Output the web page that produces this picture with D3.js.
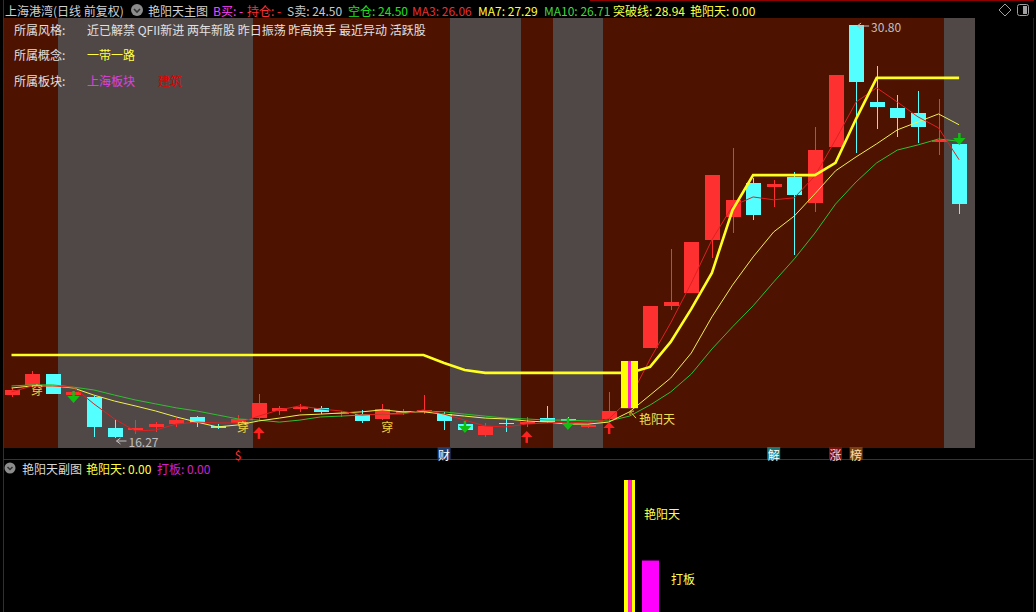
<!DOCTYPE html>
<html><head><meta charset="utf-8">
<script src="https://cdn.jsdelivr.net/npm/d3@7"></script>
<style>
html,body{margin:0;padding:0;background:#000;}
svg{display:block;font-family:"Noto Sans CJK SC","Noto Sans",sans-serif;}
</style></head><body>
<svg id="c" width="1036" height="612"></svg>
<script>
// ---------- data ----------
const open  = [17.78,18.14,18.52,17.78,17.71,16.62,16.55,16.66,16.76,17.01,16.69,16.80,16.97,17.22,17.29,17.33,17.11,17.11,16.94,17.15,17.18,17.11,16.76,16.38,16.80,16.80,16.97,16.94,16.66,16.94,17.32,19.43,20.91,21.37,23.23,24.04,25.24,25.10,25.45,24.54,26.51,30.80,28.09,27.88,27.70,26.72,26.61];
const high  = [18.03,18.63,18.52,17.92,17.75,16.90,16.90,16.83,16.97,17.04,16.76,17.08,17.82,17.40,17.47,17.40,17.22,17.26,17.47,17.29,17.78,17.18,16.83,16.80,16.94,17.01,17.40,17.01,16.80,17.89,18.98,20.91,22.92,23.16,25.52,26.47,25.42,25.35,25.63,27.21,29.04,30.80,29.36,28.34,28.48,28.20,27.00];
const low   = [17.71,18.06,17.82,17.75,16.31,16.27,16.41,16.48,16.66,16.66,16.59,16.69,16.90,17.08,17.18,17.11,17.01,16.80,16.90,17.08,17.11,16.55,16.48,16.31,16.48,16.66,16.80,16.76,16.62,16.83,17.32,19.43,20.77,21.37,22.60,23.48,23.94,24.40,22.71,24.22,26.51,26.30,27.14,26.86,26.65,26.23,24.15];
const close = [17.96,18.52,17.82,17.89,16.66,16.30,16.62,16.76,16.90,16.80,16.66,16.94,17.50,17.33,17.36,17.18,17.15,16.87,17.29,17.22,17.26,16.87,16.55,16.69,16.76,16.83,16.83,16.87,16.73,17.22,18.98,20.91,21.05,23.16,25.52,24.64,24.11,25.20,24.82,26.40,29.04,28.79,27.91,27.53,27.21,26.75,24.50];
const ma3   = [17.89,18.10,18.10,18.06,17.47,16.94,16.52,16.55,16.76,16.83,16.80,16.80,17.04,17.26,17.40,17.29,17.22,17.08,17.11,17.11,17.26,17.11,16.90,16.69,16.66,16.76,16.80,16.83,16.80,16.94,17.64,19.05,20.32,21.72,23.24,24.43,24.75,24.65,24.72,25.49,26.76,28.09,28.59,28.09,27.57,27.18,26.06];
const ma7   = [18.03,18.10,18.10,18.03,17.78,17.57,17.40,17.22,17.01,16.83,16.66,16.73,16.87,16.97,17.08,17.11,17.15,17.19,17.26,17.19,17.19,17.11,17.04,16.97,16.94,16.87,16.83,16.76,16.76,16.83,17.19,17.78,18.38,19.26,20.53,21.65,22.64,23.52,24.08,24.86,25.67,26.16,26.62,27.11,27.39,27.67,27.29];
const ma10  = [18.10,18.14,18.14,18.06,17.96,17.78,17.61,17.47,17.33,17.22,17.08,16.94,16.90,16.83,16.90,17.01,17.04,17.08,17.11,17.15,17.22,17.19,17.11,17.04,16.97,16.94,16.90,16.90,16.87,16.87,17.04,17.43,17.89,18.52,19.40,20.18,20.92,21.76,22.57,23.48,24.50,25.28,25.95,26.40,26.58,26.79,26.71];
const breakLine = [19.19,19.19,19.19,19.19,19.19,19.19,19.19,19.19,19.19,19.19,19.19,19.19,19.19,19.19,19.19,19.19,19.19,19.19,19.19,19.19,19.19,18.91,18.66,18.56,18.56,18.56,18.56,18.56,18.56,18.56,18.56,18.77,19.65,20.81,22.08,24.29,25.52,25.52,25.52,25.52,25.95,27.50,28.94,28.94,28.94,28.94,28.94];
// grey background bands (candle index ranges)
const bandStart = [2,21,26,45];
const bandEnd   = [12,25,29,47];
// signals
const downIdx = [3,22,27,46], downPrice = [17.50,16.45,16.55,26.58];
const upIdx   = [12,25,29],   upPrice   = [16.66,16.52,16.83];
const chuanIdx = [1,11,18],   chuanPrice = [17.96,16.66,16.69];
const yytIdx = 30;            // 艳阳天 signal day
const subYytIdx = [30], subYytVal = [1.0];
const subDabanIdx = [31], subDabanVal = [0.39];
const markIdx  = [11,21,37,40,41];
const markText = ["$","财","解","涨","榜"];
const styleTags = "近已解禁 QFII新进 两年新股 昨日振荡 昨高换手 最近异动 活跃股";
const conceptTags = "一带一路";
const sectorTags = ["上海板块","建筑"];

// ---------- scales ----------
const svg = d3.select("#c");
const N = close.length;
const x = d3.scaleLinear().domain([0, N-1]).range([11.5, 959.1]);
const y = d3.scaleLinear().domain([16.27, 30.80]).range([438, 25]);
const ys = d3.scaleLinear().domain([0, 1]).range([612, 480]);
const step = x(1)-x(0);

svg.append("rect").attr("width",1036).attr("height",612).attr("fill","#000");
// main plot background
const PL=3, PR=975, PT=18, PB=448;
svg.append("rect").attr("x",PL).attr("y",PT).attr("width",PR-PL).attr("height",PB-PT).attr("fill","#4d1200");
svg.append("g").selectAll("rect").data(bandStart).join("rect")
  .attr("x",(d)=>x(d)+5.5)
  .attr("y",PT)
  .attr("width",(d,i)=>Math.min(PR, bandEnd[i]>=N? PR : x(bandEnd[i])-5.5) - (x(d)+5.5))
  .attr("height",PB-PT)
  .attr("fill","#504747").attr("shape-rendering","crispEdges");

// frame lines
svg.append("line").attr("x1",3.5).attr("x2",3.5).attr("y1",0).attr("y2",612).attr("stroke","#a00000");
svg.append("line").attr("x1",1033.5).attr("x2",1033.5).attr("y1",18).attr("y2",612).attr("stroke","#700000");
svg.append("line").attr("x1",3).attr("x2",1034).attr("y1",459.5).attr("y2",459.5).attr("stroke","#b00000");
svg.append("line").attr("x1",590).attr("x2",1034).attr("y1",0.5).attr("y2",0.5).attr("stroke","#900000");

// ---------- candles ----------
const idx = d3.range(N);
const up = i => close[i] >= open[i];
const colUp = "#ff3030", colDn = "#54ffff";
const cg = svg.append("g").attr("shape-rendering","crispEdges");
cg.selectAll("line").data(idx).join("line")
  .attr("x1",i=>Math.round(x(i))+0.5).attr("x2",i=>Math.round(x(i))+0.5)
  .attr("y1",i=>y(high[i])).attr("y2",i=>y(low[i]))
  .attr("stroke",i=>up(i)?colUp:colDn);
cg.selectAll("rect").data(idx).join("rect")
  .attr("x",i=>Math.round(x(i))-7)
  .attr("width",15)
  .attr("y",i=>y(Math.max(open[i],close[i])))
  .attr("height",i=>Math.max(1.5, Math.abs(y(open[i])-y(close[i]))))
  .attr("fill",i=>up(i)?colUp:colDn);

// ---------- lines ----------
const line = d3.line().x((d,i)=>x(i)).y(d=>y(d));
svg.append("path").attr("d",line(ma10)).attr("fill","none").attr("stroke","#2fc02f").attr("stroke-width",1);
svg.append("path").attr("d",line(ma7)).attr("fill","none").attr("stroke","#f0f050").attr("stroke-width",1);
svg.append("path").attr("d",line(ma3)).attr("fill","none").attr("stroke","#e02020").attr("stroke-width",1);
svg.append("path").attr("d",line(breakLine)).attr("fill","none").attr("stroke","#ffff20").attr("stroke-width",2.6);

// ---------- 艳阳天 bar in main chart ----------
{
  const cx = Math.round(x(yytIdx));
  const top = y(Math.max(open[yytIdx],close[yytIdx])), bot = y(Math.min(open[yytIdx],close[yytIdx]));
  svg.append("rect").attr("x",cx-9).attr("y",top).attr("width",17).attr("height",bot-top).attr("fill","#ffff00");
  svg.append("rect").attr("x",cx-2).attr("y",top).attr("width",3).attr("height",bot-top).attr("fill","#ff20c0");
  svg.append("line").attr("x1",cx).attr("y1",bot+3).attr("x2",cx+6).attr("y2",bot+10).attr("stroke","#e0d040").attr("stroke-width",1);
  svg.append("path").attr("d",`M${cx},${bot+3} l0,4 M${cx},${bot+3} l4,0`).attr("stroke","#e0d040").attr("fill","none");
  svg.append("text").attr("x",cx+9).attr("y",y(open[yytIdx]-0.38)).attr("dominant-baseline","central")
    .attr("font-size",12).attr("fill","#f0e050").text("艳阳天");
}

// ---------- signals ----------
const ag = svg.append("g");
downIdx.forEach((d,k)=>{
  const cx = x(d), tip = y(downPrice[k]);
  ag.append("rect").attr("x",cx-1).attr("y",tip-12).attr("width",2.5).attr("height",6).attr("fill","#10c010");
  ag.append("path").attr("d",`M${cx-6},${tip-7} L${cx+6.5},${tip-7} L${cx+0.25},${tip} Z`).attr("fill","#10c010");
});
upIdx.forEach((d,k)=>{
  const cx = x(d), tip = y(upPrice[k]);
  ag.append("path").attr("d",`M${cx-5.5},${tip+6} L${cx+6},${tip+6} L${cx+0.25},${tip} Z`).attr("fill","#ff2020");
  ag.append("rect").attr("x",cx-1).attr("y",tip+5).attr("width",2.5).attr("height",7).attr("fill","#ff2020");
});
chuanIdx.forEach((d,k)=>{
  ag.append("text").attr("x",x(d)+5).attr("y",y(chuanPrice[k])).attr("text-anchor","middle")
    .attr("dominant-baseline","central").attr("font-size",12).attr("fill","#f0d040").text("穿");
});

// extreme labels
{
  const iMin = d3.minIndex(low), iMax = d3.maxIndex(high);
  const lx = x(iMin)+2, ly = y(low[iMin])+3;
  ag.append("path").attr("d",`M${lx},${ly} l10,0 M${lx},${ly} l4,-3 M${lx},${ly} l4,3`).attr("stroke","#c0c0c0").attr("fill","none");
  ag.append("text").attr("x",lx+12).attr("y",ly).attr("dominant-baseline","central").attr("font-size",12).attr("fill","#c0c0c0").text(low[iMin].toFixed(2));
  const hx = x(iMax)+1, hy = y(high[iMax])+1;
  ag.append("path").attr("d",`M${hx},${hy} l12,0 M${hx},${hy} l4,-3 M${hx},${hy} l4,3`).attr("stroke","#c0c0c0").attr("fill","none");
  ag.append("text").attr("x",hx+14).attr("y",hy).attr("dominant-baseline","central").attr("font-size",12).attr("fill","#c0c0c0").text(high[iMax].toFixed(2));
}

// ---------- bottom event markers ----------
const markBg = ["none","#1c3c70","#1a7878","#7a1010","#7a4010"];
const markFg = ["#ff3030","#ffffff","#ffffff","#ffd0d0","#ffe0b0"];
markIdx.forEach((d,k)=>{
  const cx = x(d);
  if (markBg[k]!=="none") svg.append("rect").attr("x",cx-6.5).attr("y",447).attr("width",13).attr("height",13).attr("fill",markBg[k]);
  svg.append("text").attr("x",cx).attr("y",454).attr("text-anchor","middle").attr("dominant-baseline","central")
    .attr("font-size",12).attr("fill",markFg[k]).text(markText[k]);
});

// ---------- header ----------
const hdr = svg.append("g").attr("font-size",12).attr("dominant-baseline","central");
function ht(t,xx,c,yy=10){ hdr.append("text").attr("x",xx).attr("y",yy).attr("fill",c).text(t); }
ht("上海港湾(日线 前复权)",5,"#d0d0d0");
svg.append("circle").attr("cx",137).attr("cy",10).attr("r",6).attr("fill","#8c8c8c");
svg.append("path").attr("d","M134,9 L137,12 L140,9").attr("stroke","#333").attr("stroke-width",1.6).attr("fill","none");
ht("艳阳天主图",148,"#d0d0d0");
ht("B买: -",213,"#ff40ff");
ht("持仓: -",247,"#ff3030");
ht("S卖: "+close[N-1].toFixed(2),287,"#c8c8c8");
ht("空仓: "+close[N-1].toFixed(2),348,"#20e020");
ht("MA3: "+ma3[N-1].toFixed(2),412,"#e83030");
ht("MA7: "+ma7[N-1].toFixed(2),478,"#ffff40");
ht("MA10: "+ma10[N-1].toFixed(2),544,"#40d840");
ht("突破线: "+breakLine[N-1].toFixed(2),613,"#ffff40");
ht("艳阳天: 0.00",690,"#ffff40");
svg.append("path").attr("d","M1005,4 L1011,10 L1005,16 L999,10 Z").attr("stroke","#a0a0a0").attr("fill","none");
svg.append("rect").attr("x",1017.5).attr("y",4.5).attr("width",11).attr("height",11).attr("rx",2).attr("stroke","#a0a0a0").attr("fill","none");
svg.append("rect").attr("x",1023).attr("y",6).attr("width",4).attr("height",8).attr("fill","#a0a0a0");

// info block
const info = svg.append("g").attr("font-size",12).attr("dominant-baseline","central");
info.append("text").attr("x",14).attr("y",29).attr("fill","#e0e0e0").text("所属风格:");
info.append("text").attr("x",87).attr("y",29).attr("fill","#e0e0e0").text(styleTags);
info.append("text").attr("x",14).attr("y",54).attr("fill","#e0e0e0").text("所属概念:");
info.append("text").attr("x",87).attr("y",54).attr("fill","#ffff40").text(conceptTags);
info.append("text").attr("x",14).attr("y",80).attr("fill","#e0e0e0").text("所属板块:");
info.append("text").attr("x",87).attr("y",80).attr("fill","#e040e0").text(sectorTags[0]);
info.append("text").attr("x",158).attr("y",80).attr("fill","#e00000").text(sectorTags[1]);

// ---------- sub chart ----------
svg.append("circle").attr("cx",10).attr("cy",468).attr("r",5.5).attr("fill","#8c8c8c");
svg.append("path").attr("d","M7.5,467 L10,469.5 L12.5,467").attr("stroke","#333").attr("stroke-width",1.5).attr("fill","none");
ht("艳阳天副图",22,"#d8d8d8",468);
ht("艳阳天: 0.00",86,"#ffff40",468);
ht("打板: 0.00",157,"#d020d0",468);
subYytIdx.forEach((d,k)=>{
  const cx = Math.round(x(d));
  svg.append("rect").attr("x",cx-6).attr("y",ys(subYytVal[k])).attr("width",11).attr("height",612-ys(subYytVal[k])).attr("fill","#ffff00");
  svg.append("rect").attr("x",cx-2).attr("y",ys(subYytVal[k])).attr("width",4).attr("height",612-ys(subYytVal[k])).attr("fill","#ff20c0");
  svg.append("text").attr("x",cx+14).attr("y",513).attr("dominant-baseline","central").attr("font-size",12).attr("fill","#ffff50").text("艳阳天");
});
subDabanIdx.forEach((d,k)=>{
  const cx = Math.round(x(d));
  svg.append("rect").attr("x",cx-8).attr("y",ys(subDabanVal[k])).attr("width",17).attr("height",612-ys(subDabanVal[k])).attr("fill","#ff00ff");
  svg.append("text").attr("x",cx+21).attr("y",578).attr("dominant-baseline","central").attr("font-size",12).attr("fill","#ffff50").text("打板");
});
</script>
</body></html>
